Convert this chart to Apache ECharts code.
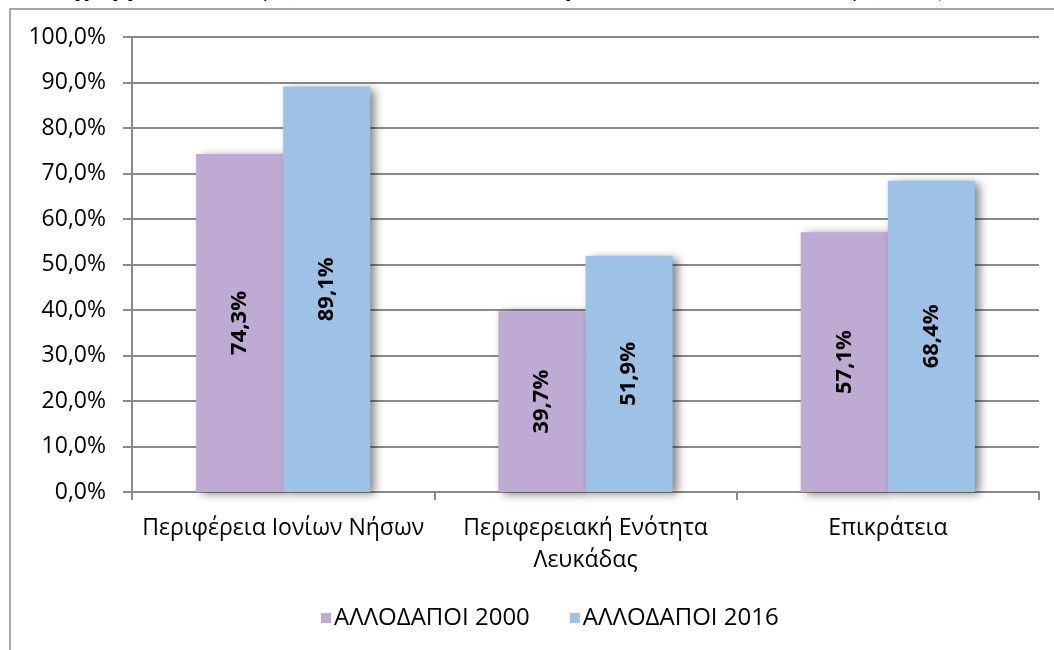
<!DOCTYPE html>
<html>
<head>
<meta charset="utf-8">
<script src="https://cdn.jsdelivr.net/npm/echarts@6/dist/echarts.min.js"></script>
<style>
html,body{margin:0;padding:0;background:#fff;}
#chart{width:1054px;height:650px;}
</style>
</head>
<body>
<div id="chart"></div>
<script>
const titleText = 'Διάγραμμα 1.1: % αφίξεων των αλλοδαπών τουριστών στο σύνολο των αφίξεων (2000-2016)';
const categories = ['Περιφέρεια Ιονίων Νήσων', 'Περιφερειακή Ενότητα\nΛευκάδας', 'Επικράτεια'];
const seriesNames = ['ΑΛΛΟΔΑΠΟΙ 2000', 'ΑΛΛΟΔΑΠΟΙ 2016'];
const values2000 = [74.3, 39.7, 57.1];
const values2016 = [89.1, 51.9, 68.4];
const yMin = 0, yMax = 100, yStep = 10;

const FONT = '"Open Sans", "Noto Sans", sans-serif';
const GRID_COLOR = '#8a8a8a';
const fmtPct = v => v.toFixed(1).replace('.', ',') + '%';

const chart = echarts.init(document.getElementById('chart'), null, {renderer: 'canvas'});
const barShadow = {shadowColor: 'rgba(0,0,0,0.5)', shadowBlur: 9, shadowOffsetX: 5, shadowOffsetY: 2};
const labelStyle = {
  show: true, position: 'inside', rotate: 90, color: '#000',
  fontFamily: FONT, fontWeight: 'bold', fontSize: 22,
  formatter: p => fmtPct(p.value)
};
chart.setOption({
  animation: false,
  backgroundColor: '#fff',
  textStyle: {fontFamily: FONT},
  graphic: [
    {type: 'text', left: 35, top: -25, silent: true,
     style: {text: titleText, font: 'italic bold 27px "Liberation Serif", "DejaVu Serif", serif', fill: '#000'}},
    {type: 'rect', shape: {x: 10, y: 9, width: 1200, height: 800}, silent: true,
     style: {fill: 'none', stroke: '#8a8a8a', lineWidth: 1.5}}
  ],
  grid: {left: 132, right: 15, top: 37, bottom: 158, containLabel: false},
  legend: {
    left: 316, top: 601, itemWidth: 10, itemHeight: 10, itemGap: 40,
    icon: 'rect',
    textStyle: {fontFamily: FONT, fontSize: 24, color: '#000', lineHeight: 24, padding: [0, 0, 0, -2]},
    data: seriesNames
  },
  xAxis: {
    type: 'category', data: categories,
    axisLine: {lineStyle: {color: GRID_COLOR, width: 2}},
    axisTick: {show: true, length: 8, lineStyle: {color: GRID_COLOR, width: 2}},
    axisLabel: {color: '#000', fontFamily: FONT, fontSize: 23, lineHeight: 32, margin: 20, interval: 0}
  },
  yAxis: {
    type: 'value', min: yMin, max: yMax, interval: yStep,
    axisLine: {show: true, lineStyle: {color: GRID_COLOR, width: 2}},
    axisTick: {show: true, length: 9, lineStyle: {color: GRID_COLOR, width: 2}},
    splitLine: {lineStyle: {color: GRID_COLOR, width: 2}},
    axisLabel: {color: '#000', fontFamily: FONT, fontSize: 23, margin: 26, formatter: v => fmtPct(v)}
  },
  series: [
    {name: seriesNames[0], type: 'bar', data: values2000, barGap: '0%', barCategoryGap: '42.4%',
     itemStyle: Object.assign({color: '#bfaad4'}, barShadow), label: labelStyle},
    {name: seriesNames[1], type: 'bar', data: values2016, barGap: '0%', barCategoryGap: '42.4%',
     itemStyle: Object.assign({color: '#9ec1e6'}, barShadow), label: labelStyle}
  ]
});
</script>
</body>
</html>
